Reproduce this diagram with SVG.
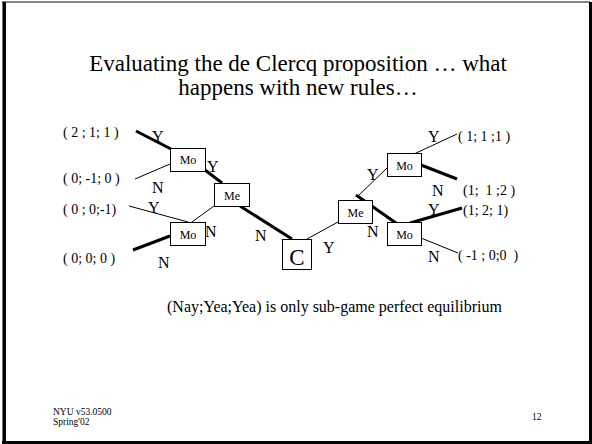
<svg xmlns="http://www.w3.org/2000/svg" width="592" height="444" viewBox="0 0 592 444">
<style>
text{font-family:"Liberation Serif","Times New Roman",serif;fill:#000}
.box{fill:#fff;stroke:#000;stroke-width:1}
.thin{stroke:#000;stroke-width:1;fill:none}
.thick{stroke:#000;stroke-width:3;fill:none}
.pay{font-size:14px}
.yn{font-size:16px}
.nl{font-size:12px;text-anchor:middle}
.title{font-size:23px;text-anchor:middle}
.foot{font-size:9.5px}
</style>
<rect x="0" y="0" width="592" height="444" fill="#fff"/>
<g id="frame">
<line x1="2" y1="2" x2="590" y2="2" stroke="#888" stroke-width="2"/>
<line x1="4.2" y1="2" x2="4.2" y2="444" stroke="#000" stroke-width="3.5"/>
<line x1="590.5" y1="2" x2="590.5" y2="444" stroke="#000" stroke-width="3"/>
<line x1="2" y1="442.5" x2="592" y2="442.5" stroke="#000" stroke-width="3"/>
</g>
<g id="title">
<text class="title" x="298" y="71">Evaluating the de Clercq proposition … what</text>
<text class="title" x="298" y="95">happens with new rules…</text>
</g>
<g id="connectors">
<line class="thick" x1="136" y1="131" x2="171" y2="149"/>
<line class="thin" x1="135" y1="179" x2="170" y2="164"/>
<line class="thick" x1="205" y1="170" x2="222" y2="183"/>
<line class="thin" x1="129" y1="206" x2="188" y2="222"/>
<line class="thin" x1="214" y1="206" x2="192" y2="222"/>
<line class="thick" x1="133" y1="250" x2="170" y2="236"/>
<line class="thick" x1="240" y1="206" x2="292" y2="239"/>
<line class="thin" x1="307" y1="239" x2="338" y2="222"/>
<line class="thin" x1="357" y1="197" x2="387" y2="168"/>
<line class="thick" x1="356" y1="195" x2="396" y2="223"/>
<line class="thin" x1="414" y1="154" x2="457" y2="134"/>
<line class="thick" x1="421" y1="165" x2="457" y2="179"/>
<line class="thick" x1="410" y1="223" x2="462" y2="208"/>
<line class="thin" x1="421" y1="238" x2="458" y2="253"/>
</g>
<g id="mo1"><rect class="box" x="170.5" y="148.5" width="35" height="23"/><text class="nl" x="188" y="164">Mo</text></g>
<g id="me1"><rect class="box" x="214.5" y="183.5" width="35" height="23"/><text class="nl" x="232" y="200">Me</text></g>
<g id="mo2"><rect class="box" x="170.5" y="222.5" width="35" height="23"/><text class="nl" x="188" y="239">Mo</text></g>
<g id="c"><rect class="box" x="282.5" y="239.5" width="29" height="30"/><text x="297" y="265" font-size="23" text-anchor="middle">C</text></g>
<g id="me2"><rect class="box" x="338.5" y="200.5" width="34" height="23"/><text class="nl" x="355.5" y="217">Me</text></g>
<g id="mo3"><rect class="box" x="387.5" y="153.5" width="34" height="23"/><text class="nl" x="404.5" y="170">Mo</text></g>
<g id="mo4"><rect class="box" x="387.5" y="222.5" width="34" height="23"/><text class="nl" x="404.5" y="239">Mo</text></g>
<g id="labels">
<text class="pay" x="63" y="137">( 2 ; 1; 1 )</text>
<text class="pay" x="63" y="183">( 0; -1; 0 )</text>
<text class="pay" x="63" y="214">( 0 ; 0;-1)</text>
<text class="pay" x="63" y="263">( 0; 0; 0 )</text>
<text class="yn" x="152" y="142">Y</text>
<text class="yn" x="207" y="172">Y</text>
<text class="yn" x="152" y="193">N</text>
<text class="yn" x="148" y="213">Y</text>
<text class="yn" x="205" y="237" font-size="18">N</text>
<text class="yn" x="255" y="241" font-size="17">N</text>
<text class="yn" x="158" y="268">N</text>
<text class="yn" x="323" y="253" font-size="17">Y</text>
<text class="yn" x="428" y="142">Y</text>
<text class="yn" x="367" y="180">Y</text>
<text class="yn" x="432" y="196">N</text>
<text class="yn" x="428" y="215">Y</text>
<text class="yn" x="367" y="237">N</text>
<text class="yn" x="428" y="262">N</text>
<text class="pay" x="458" y="141">( 1; 1 ;1 )</text>
<text class="pay" x="463" y="195" xml:space="preserve">(1;  1 ;2 )</text>
<text class="pay" x="463" y="215">(1; 2; 1)</text>
<text class="pay" x="458" y="260" xml:space="preserve">( -1 ; 0;0  )</text>
</g>
<g id="note">
<text x="167" y="312" font-size="16">(Nay;Yea;Yea) is only sub-game perfect equilibrium</text>
</g>
<g id="footer">
<text class="foot" x="53" y="415">NYU v53.0500</text>
<text class="foot" x="53" y="425">Spring'02</text>
<text class="foot" x="532" y="420">12</text>
</g>
</svg>
